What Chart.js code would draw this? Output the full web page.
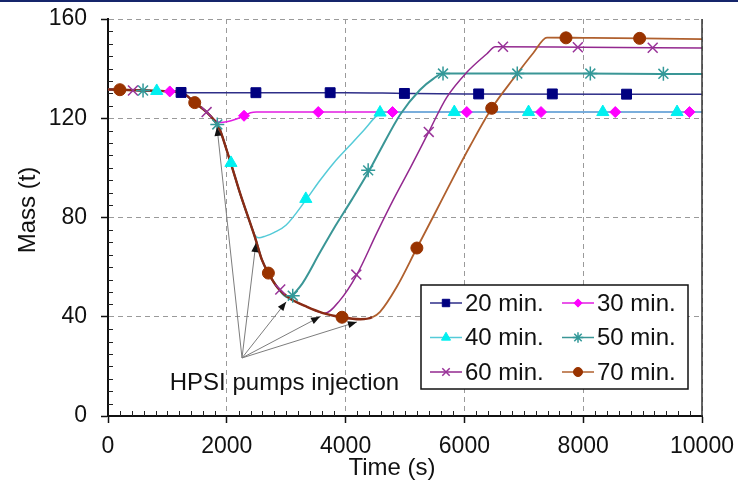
<!DOCTYPE html>
<html lang="en">
<head>
<meta charset="utf-8">
<title>Mass (t) vs Time (s)</title>
<script src="https://cdn.jsdelivr.net/npm/chart.js@4.4.1/dist/chart.umd.min.js"></script>
<style>
  html, body { margin: 0; padding: 0; background: #fff; }
  canvas { display: block; }
</style>
</head>
<body>
<canvas id="massChart" width="738" height="485"></canvas>
<script>
// series names (HPSI pump start delay)
const seriesNames = ['20 min.', '30 min.', '40 min.', '50 min.', '60 min.', '70 min.'];

// curve points, time in s / mass in t
const times20 = [0, 200, 600, 1000, 1200, 1400, 4000, 5000, 6000, 10000];
const mass20  = [131.6, 131.5, 131.2, 130.9, 130.5, 130.3, 130.3, 130.0, 129.8, 129.7];

const times30 = [0, 200, 600, 1000, 1200, 1300, 1460, 1660, 1800, 1885, 2000, 2150, 2290, 2400, 2500, 10000];
const mass30  = [131.6, 131.5, 131.2, 130.9, 130.5, 129.6, 126.3, 122.5, 119.2, 118.3, 118.6, 119.6, 121.0, 122.2, 122.5, 122.5];

const times40 = [0, 200, 600, 1000, 1200, 1300, 1460, 1660, 1800, 1885, 2000, 2105, 2220, 2390, 2470, 2540, 2650, 2800, 3000, 3330, 3570, 3800, 4050, 4300, 4580, 4700, 10000];
const mass40  = [131.6, 131.5, 131.2, 130.9, 130.5, 129.6, 126.3, 122.5, 118.8, 115.3, 107, 99, 90, 78, 73, 71.8, 72.5, 74, 77, 87, 95, 102, 108.5, 115, 122, 122.5, 122.5];

const times50 = [0, 200, 600, 1000, 1200, 1300, 1460, 1660, 1800, 1885, 2000, 2105, 2220, 2390, 2475, 2590, 2700, 2860, 3020, 3230, 3570, 3800, 4100, 4400, 4580, 4920, 5250, 5480, 5640, 8000, 10000];
const mass50  = [131.6, 131.5, 131.2, 130.9, 130.5, 129.6, 126.3, 122.5, 118.8, 115.3, 107, 99, 90, 78, 72, 63, 57.6, 51.6, 47.8, 52, 66, 75.5, 87, 99, 107, 121.5, 131.4, 136, 138, 138, 137.8];

const times60 = [0, 200, 600, 1000, 1200, 1300, 1460, 1660, 1800, 1885, 2000, 2105, 2220, 2390, 2475, 2590, 2700, 2860, 3050, 3350, 3650, 3900, 4190, 4530, 4800, 5100, 5400, 5700, 6040, 6380, 6520, 8000, 10000];
const mass60  = [131.6, 131.5, 131.2, 130.9, 130.5, 129.6, 126.3, 122.5, 118.8, 115.3, 107, 99, 90, 78, 72, 63, 57.6, 51.6, 47.6, 44, 41.4, 46.5, 57, 74, 87, 100.5, 114.5, 128.3, 138.5, 146, 148.8, 148.6, 148.3];

const times70 = [0, 200, 600, 1000, 1200, 1300, 1460, 1660, 1800, 1885, 2000, 2105, 2220, 2390, 2475, 2590, 2700, 2860, 3050, 3350, 3620, 3940, 4250, 4450, 4580, 4860, 5200, 5500, 5800, 6100, 6460, 6820, 7160, 7390, 8000, 9000, 10000];
const mass70  = [131.6, 131.5, 131.2, 130.9, 130.5, 129.6, 126.3, 122.5, 118.8, 115.3, 107, 99, 90, 78, 72, 63, 57.6, 51.6, 47.6, 44, 41.5, 39.8, 39.0, 39.8, 42, 52, 67.7, 81.5, 95.5, 109, 124, 135.8, 146.3, 152.5, 152.4, 152.2, 151.9];

// marker points along each curve
const mk20T = [1230, 2490, 3740, 4990, 6240, 7480, 8730];
const mk20M = [130.4, 130.3, 130.3, 130.0, 129.8, 129.8, 129.7];
const mk30T = [1040, 2290, 3540, 4790, 6040, 7290, 8540, 9790];
const mk30M = [130.8, 121.0, 122.5, 122.5, 122.5, 122.5, 122.5, 122.5];
const mk40T = [820, 2070, 3330, 4580, 5830, 7080, 8330, 9580];
const mk40M = [131.0, 102.0, 87.5, 122.3, 122.5, 122.5, 122.5, 122.5];
const mk50T = [590, 1840, 3110, 4380, 5640, 6890, 8120, 9350];
const mk50M = [131.2, 117.5, 48.5, 99.0, 138.0, 138.0, 138.0, 137.9];
const mk60T = [420, 1660, 2900, 4180, 5400, 6650, 7910, 9170];
const mk60M = [131.2, 122.5, 51.0, 57.0, 114.5, 148.8, 148.6, 148.4];
const mk70T = [200, 1460, 2700, 3940, 5200, 6460, 7710, 8950];
const mk70M = [131.5, 126.3, 57.6, 39.8, 67.7, 124.0, 152.4, 152.2];

// pump start callouts: common origin and the point each arrow marks
const noteText = 'HPSI pumps injection';
const arrowBase = [2256, 23.4];
const arrowT = [1835, 2490, 3000, 3570, 4190];
const arrowM = [116.5, 69.7, 46.0, 40.0, 37.9];

const FONT = '"Liberation Sans", Arial, sans-serif';

const series = [
  { name: seriesNames[0], t: times20, m: mass20, mt: mk20T, mm: mk20M, line: '#2e2e88', w: 1.5, mark: '#000080', style: 'rect',     r: 7,   bw: 1 },
  { name: seriesNames[1], t: times30, m: mass30, mt: mk30T, mm: mk30M, line: '#e21de2', w: 1.5, mark: '#ff00ff', style: 'rectRot',  r: 5.5, bw: 1 },
  { name: seriesNames[2], t: times40, m: mass40, mt: mk40T, mm: mk40M, line: '#55cbd8', w: 1.5, mark: '#00f0f0', style: 'triangle', r: 7,   bw: 1 },
  { name: seriesNames[3], t: times50, m: mass50, mt: mk50T, mm: mk50M, line: '#3a9696', w: 2,   mark: '#339999', style: 'star',     r: 7,   bw: 1.5 },
  { name: seriesNames[4], t: times60, m: mass60, mt: mk60T, mm: mk60M, line: '#93288f', w: 1.5, mark: '#993399', style: 'crossRot', r: 7,   bw: 1.5 },
  { name: seriesNames[5], t: times70, m: mass70, mt: mk70T, mm: mk70M, line: '#b0602e', w: 1.8, mark: '#993300', style: 'circle',   r: 6,   bw: 1,
    // all curves overlap up to the 70 min minimum, which reads darker and heavier
    shared: 4300, sharedColor: '#8a2c14', sharedWidth: 2.4 }
];

function pts(ts, ms) {
  return ts.map((t, i) => ({ x: t, y: ms[i] }));
}

const datasets = [];
series.forEach((s, i) => {
  const ds = {
    label: s.name,
    data: pts(s.t, s.m),
    borderColor: s.line,
    borderWidth: s.w,
    pointRadius: 0,
    cubicInterpolationMode: 'monotone',
    fill: false,
    order: 10 - i
  };
  if (s.shared) {
    ds.segment = {
      borderColor: c => c.p0.parsed.x < s.shared ? s.sharedColor : undefined,
      borderWidth: c => c.p0.parsed.x < s.shared ? s.sharedWidth : undefined
    };
  }
  datasets.push(ds);
  datasets.push({
    label: s.name + ' markers',
    data: pts(s.mt, s.mm),
    showLine: false,
    pointStyle: s.style,
    pointRadius: s.r,
    pointBackgroundColor: s.mark,
    pointBorderColor: s.mark,
    pointBorderWidth: s.bw,
    order: 1
  });
});
arrowT.forEach((t, i) => {
  datasets.push({
    label: 'arrow',
    isArrow: true,
    data: [{ x: arrowBase[0], y: arrowBase[1] }, { x: t, y: arrowM[i] }],
    borderColor: '#7d7d7d',
    borderWidth: 1,
    pointRadius: 0,
    order: 20
  });
});

// arrowheads, note text, minor ticks, frame, legend and axis titles
const extras = {
  id: 'extras',
  beforeDraw(chart) {
    const { ctx, width, height } = chart;
    ctx.save();
    ctx.fillStyle = '#fff';
    ctx.fillRect(0, 0, width, height);
    ctx.fillStyle = '#15256b';
    ctx.fillRect(0, 0, width, 2);
    ctx.restore();
  },
  afterDatasetsDraw(chart) {
    const { ctx } = chart;
    const xs = chart.scales.x, ys = chart.scales.y;
    ctx.save();
    ctx.fillStyle = '#111';
    chart.data.datasets.forEach((ds, i) => {
      if (!ds.isArrow) return;
      const [a, b] = chart.getDatasetMeta(i).data;
      const ang = Math.atan2(b.y - a.y, b.x - a.x);
      const c = Math.cos(ang), s = Math.sin(ang);
      ctx.beginPath();
      ctx.moveTo(b.x, b.y);
      ctx.lineTo(b.x - 9 * c + 3.5 * s, b.y - 9 * s - 3.5 * c);
      ctx.lineTo(b.x - 9 * c - 3.5 * s, b.y - 9 * s + 3.5 * c);
      ctx.closePath();
      ctx.fill();
    });
    ctx.font = '24px ' + FONT;
    ctx.textAlign = 'left';
    ctx.textBaseline = 'alphabetic';
    ctx.fillText(noteText, xs.getPixelForValue(1040), ys.getPixelForValue(10.5));
    ctx.restore();
  },
  afterDraw(chart) {
    const { ctx, chartArea: ca } = chart;
    const xs = chart.scales.x, ys = chart.scales.y;
    ctx.save();

    // minor ticks on the inside of the axes
    ctx.strokeStyle = '#222';
    ctx.lineWidth = 1;
    ctx.beginPath();
    for (let t = 200; t < 10000; t += 200) {
      if (t % 2000 === 0) continue;
      const px = Math.round(xs.getPixelForValue(t)) + 0.5;
      ctx.moveTo(px, ca.bottom);
      ctx.lineTo(px, ca.bottom - 5);
    }
    for (let m = 5; m < 160; m += 5) {
      if (m % 40 === 0) continue;
      const py = Math.round(ys.getPixelForValue(m)) + 0.5;
      ctx.moveTo(ca.left, py);
      ctx.lineTo(ca.left + 5, py);
    }
    ctx.stroke();

    // right frame
    ctx.strokeStyle = '#333';
    ctx.lineWidth = 1.5;
    ctx.beginPath();
    ctx.moveTo(ca.right, ca.top);
    ctx.lineTo(ca.right, ca.bottom);
    ctx.stroke();

    // legend box
    const lx = ca.right - 281, ly = ca.bottom - 131, lw = 267, lh = 104;
    ctx.fillStyle = '#fff';
    ctx.fillRect(lx, ly, lw, lh);
    ctx.strokeStyle = '#111';
    ctx.lineWidth = 1.5;
    ctx.strokeRect(lx, ly, lw, lh);
    ctx.font = '24px ' + FONT;
    ctx.textAlign = 'left';
    ctx.textBaseline = 'middle';
    series.forEach((s, i) => {
      const col = i % 2, row = Math.floor(i / 2);
      const x0 = lx + 9 + col * 132, y0 = ly + 18 + row * 34.5;
      ctx.strokeStyle = s.line;
      ctx.lineWidth = 1.5;
      ctx.beginPath();
      ctx.moveTo(x0, y0);
      ctx.lineTo(x0 + 32, y0);
      ctx.stroke();
      ctx.fillStyle = s.mark;
      ctx.strokeStyle = s.mark;
      ctx.lineWidth = s.bw;
      Chart.helpers.drawPoint(ctx, { pointStyle: s.style, radius: s.r * 0.75, rotation: 0, borderWidth: s.bw }, x0 + 16, y0);
      ctx.fillStyle = '#111';
      ctx.fillText(s.name, x0 + 35, y0 + 1);
    });

    // axis titles
    ctx.fillStyle = '#111';
    ctx.textAlign = 'center';
    ctx.textBaseline = 'middle';
    ctx.fillText('Time (s)', ca.left + 284, ca.bottom + 52);
    ctx.translate(28, ca.top + 191);
    ctx.rotate(-Math.PI / 2);
    ctx.fillText('Mass (t)', 0, 0);
    ctx.restore();
  }
};

const gridColor = c => (c.tick && c.tick.value === 0) ? 'rgba(0,0,0,0)' : '#9a9a9a';
const plain = v => String(v);

new Chart(document.getElementById('massChart').getContext('2d'), {
  type: 'line',
  data: { datasets: datasets },
  options: {
    responsive: false,
    animation: false,
    devicePixelRatio: 1,
    layout: { padding: { left: 0, top: 19, right: 36, bottom: 0 } },
    plugins: { legend: { display: false }, tooltip: { enabled: false } },
    scales: {
      x: {
        type: 'linear',
        min: 0,
        max: 10000,
        afterFit: s => { s.height = 69; s.paddingLeft = 0; s.paddingRight = 0; },
        ticks: { stepSize: 2000, maxRotation: 0, autoSkip: false, padding: 10, color: '#111', callback: plain, font: { family: FONT, size: 23 } },
        grid: { color: gridColor, lineWidth: 1, tickColor: '#111', tickLength: 7, tickWidth: 1.5 },
        border: { color: '#111', width: 2, dash: [5, 4] }
      },
      y: {
        min: 0,
        max: 160,
        afterFit: s => { s.width = 108; s.paddingTop = 0; s.paddingBottom = 0; },
        ticks: { stepSize: 40, autoSkip: false, padding: 14, color: '#111', callback: plain, font: { family: FONT, size: 23 } },
        grid: { color: gridColor, lineWidth: 1, tickColor: '#111', tickLength: 7, tickWidth: 1.5 },
        border: { color: '#111', width: 2, dash: [5, 4] }
      }
    }
  },
  plugins: [extras]
});
</script>
</body>
</html>
